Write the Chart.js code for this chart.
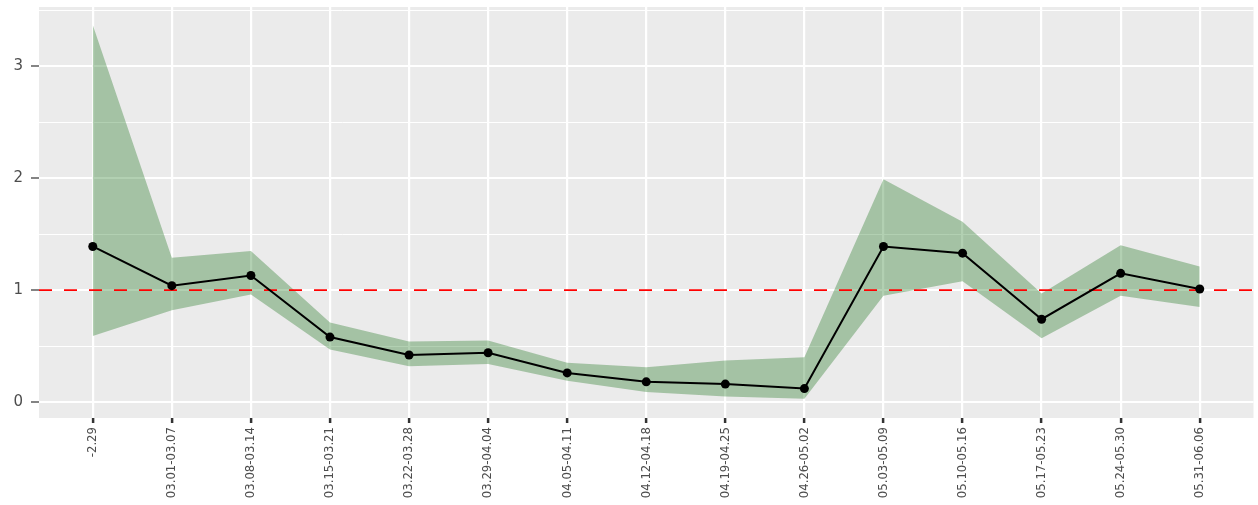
<!DOCTYPE html>
<html>
<head>
<meta charset="utf-8">
<script src="https://cdn.jsdelivr.net/npm/chart.js@4.4.0/dist/chart.umd.min.js"></script>
<style>
  html, body { margin: 0; padding: 0; background: #fff; }
  #wrap { width: 1258px; height: 505px; }
</style>
</head>
<body>
<div id="wrap"><canvas id="chart"></canvas></div>
<script>
const weeks = ['-2.29', '03.01-03.07', '03.08-03.14', '03.15-03.21', '03.22-03.28', '03.29-04.04',
  '04.05-04.11', '04.12-04.18', '04.19-04.25', '04.26-05.02', '05.03-05.09', '05.10-05.16',
  '05.17-05.23', '05.24-05.30', '05.31-06.06'];
const estimate = [1.39, 1.04, 1.13, 0.58, 0.42, 0.44, 0.26, 0.18, 0.16, 0.12, 1.39, 1.33, 0.74, 1.15, 1.01];
const upper = [3.37, 1.29, 1.35, 0.71, 0.54, 0.55, 0.35, 0.31, 0.37, 0.40, 1.99, 1.61, 0.97, 1.40, 1.21];
const lower = [0.59, 0.82, 0.96, 0.47, 0.32, 0.34, 0.19, 0.09, 0.05, 0.03, 0.95, 1.08, 0.57, 0.95, 0.85];
const refLine = 1;
const yBreaks = [0, 0.5, 1, 1.5, 2, 2.5, 3, 3.5];

// discrete-axis style range, a bit of room each side
const xMin = -0.68, xMax = weeks.length - 1 + 0.68;
const yMin = -0.143, yMax = 3.53;

const toXY = arr => arr.map((v, i) => ({ x: i, y: v }));
const isMajor = v => Number.isInteger(v);

const panelBg = {
  id: 'panelBg',
  beforeDraw(chart) {
    const { ctx, chartArea: a } = chart;
    ctx.save();
    ctx.fillStyle = '#EBEBEB';
    ctx.fillRect(a.left, a.top, a.right - a.left, a.bottom - a.top);
    ctx.restore();
  }
};

new Chart(document.getElementById('chart'), {
  type: 'line',
  data: {
    datasets: [
      {
        label: 'upper',
        data: toXY(upper),
        borderWidth: 0,
        pointRadius: 0,
        backgroundColor: 'rgba(0,100,0,0.3)',
        fill: '+1',
        order: 3
      },
      {
        label: 'lower',
        data: toXY(lower),
        borderWidth: 0,
        pointRadius: 0,
        fill: false,
        order: 3
      },
      {
        label: 'ref',
        data: [{ x: xMin, y: refLine }, { x: xMax, y: refLine }],
        borderColor: '#FF0000',
        borderWidth: 1.8,
        borderDash: [13, 12],
        pointRadius: 0,
        fill: false,
        order: 1
      },
      {
        label: 'estimate',
        data: toXY(estimate),
        borderColor: '#000',
        borderWidth: 2,
        pointRadius: 4.5,
        pointBackgroundColor: '#000',
        pointBorderWidth: 0,
        fill: false,
        order: 0
      }
    ]
  },
  options: {
    responsive: true,
    maintainAspectRatio: false,
    animation: false,
    layout: { padding: 0 },
    plugins: {
      legend: { display: false },
      tooltip: { enabled: false }
    },
    scales: {
      x: {
        type: 'linear',
        min: xMin,
        max: xMax,
        afterBuildTicks: s => { s.ticks = weeks.map((w, i) => ({ value: i })); },
        afterFit: s => { s.height = 87; s.paddingLeft = 0; s.paddingRight = 2; },
        border: { display: false },
        grid: {
          color: '#FFFFFF',
          lineWidth: 2.2,
          tickColor: '#333333',
          tickLength: 5,
          tickWidth: 2.5
        },
        ticks: {
          autoSkip: false,
          minRotation: 90,
          maxRotation: 90,
          padding: 4,
          color: '#4D4D4D',
          font: { family: "'DejaVu Sans Condensed', 'Liberation Sans', sans-serif", size: 13 },
          callback: v => weeks[v]
        }
      },
      y: {
        min: yMin,
        max: yMax,
        afterBuildTicks: s => { s.ticks = yBreaks.map(v => ({ value: v })); },
        afterFit: s => { s.width = 39; s.paddingTop = 7; s.paddingBottom = 0; },
        border: { display: false },
        grid: {
          color: '#FFFFFF',
          lineWidth: c => (c.tick && isMajor(c.tick.value) ? 2 : 1),
          tickColor: c => (c.tick && isMajor(c.tick.value) ? '#333333' : 'rgba(0,0,0,0)'),
          tickLength: 8,
          tickWidth: 1.2
        },
        ticks: {
          padding: 8,
          color: '#4D4D4D',
          font: { family: "'DejaVu Sans', sans-serif", size: 15 },
          callback: v => (isMajor(v) ? v : '')
        }
      }
    }
  },
  plugins: [panelBg]
});
</script>
</body>
</html>
